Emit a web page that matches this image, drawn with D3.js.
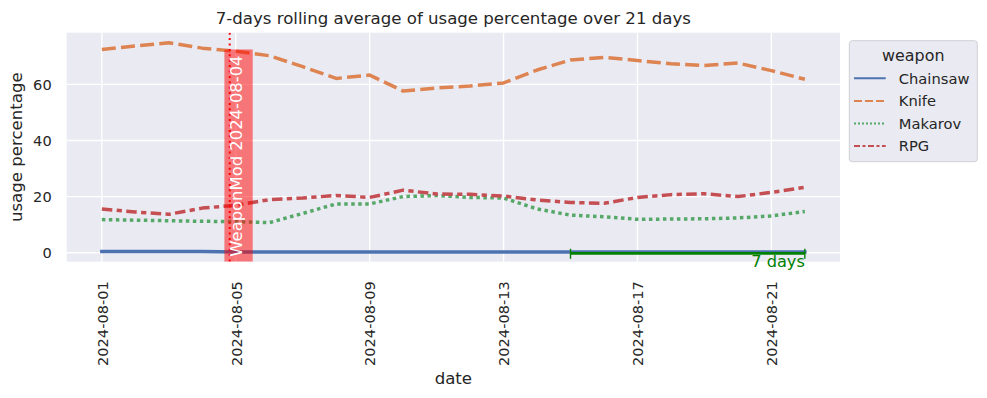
<!DOCTYPE html>
<html>
<head>
<meta charset="utf-8">
<script src="https://cdn.jsdelivr.net/npm/d3@7"></script>
<style>
    body { margin: 0; background: #ffffff; }
    svg { display: block; font-family: "DejaVu Sans", sans-serif; }
</style>
</head>
<body>
<svg id="chart" width="987" height="398"></svg>
<script>
// Data
var dates = ["2024-08-01", "2024-08-02", "2024-08-03", "2024-08-04", "2024-08-05", "2024-08-06",
    "2024-08-07", "2024-08-08", "2024-08-09", "2024-08-10", "2024-08-11", "2024-08-12",
    "2024-08-13", "2024-08-14", "2024-08-15", "2024-08-16", "2024-08-17", "2024-08-18",
    "2024-08-19", "2024-08-20", "2024-08-21", "2024-08-22"];
var weapons = ["Chainsaw", "Knife", "Makarov", "RPG"];
var chainsaw = [0.4, 0.4, 0.4, 0.4, 0.3, 0.3, 0.3, 0.3, 0.3, 0.3, 0.3, 0.3, 0.3, 0.3, 0.3, 0.3, 0.3, 0.3, 0.3, 0.3, 0.3, 0.3];
var knife = [72.4, 73.7, 74.8, 72.9, 71.8, 70.2, 66.3, 62.1, 63.3, 57.6, 58.7, 59.4, 60.5, 65.1, 68.7, 69.6, 68.5, 67.3, 66.7, 67.6, 64.9, 61.8];
var makarov = [11.8, 11.6, 11.4, 11.2, 11.1, 10.7, 14.0, 17.4, 17.4, 20.0, 20.4, 19.7, 19.5, 15.6, 13.4, 12.8, 11.9, 12.0, 12.1, 12.4, 13.1, 14.7];
var rpg = [15.6, 14.5, 13.7, 15.9, 16.9, 18.9, 19.5, 20.4, 19.7, 22.3, 20.9, 20.8, 20.2, 18.8, 17.9, 17.6, 19.7, 20.7, 21.0, 20.0, 21.5, 23.3];
var xTickDates = ["2024-08-01", "2024-08-05", "2024-08-09", "2024-08-13", "2024-08-17", "2024-08-21"];
var yTicks = [0, 20, 40, 60];
var eventDate = "2024-08-04T19:40:00Z";
var eventLabel = "WeaponMod 2024-08-04";
var windowStart = "2024-08-15", windowEnd = "2024-08-22";
var windowLabel = "7 days";

var config = {
    margin: { left: 66.7, top: 32.7, right: 840, bottom: 261.7 },
    colors: ["#4c72b0", "#dd8452", "#55a868", "#c44e52"],
    // seaborn style dashes, in units of the line width
    dashes: [null, [4, 1.5], [1, 1], [3, 1.25, 1.5, 1.25]],
    lineWidth: 3.5,
    legendLineWidth: 2,
    textColor: "#262626",
    background: "#eaeaf2"
};

var parse = function (s) { return new Date(s.length > 10 ? s : s + "T00:00:00Z"); };
var series = [chainsaw, knife, makarov, rpg];

var svg = d3.select("#chart"),
    m = config.margin,
    first = parse(dates[0]),
    last = parse(dates[dates.length - 1]),
    pad = (last - first) * 0.05;

var x = d3.scaleUtc()
    .domain([new Date(+first - pad), new Date(+last + pad)])
    .range([m.left, m.right]);

var y = d3.scaleLinear()
    .domain([-3.2, 78.4])
    .range([m.bottom, m.top]);

var dash = function (i, w) {
    return config.dashes[i] ? config.dashes[i].map(function (d) { return d * w; }).join(",") : null;
};

// Axes background and grid
svg.append("rect")
    .attr("x", m.left).attr("y", m.top)
    .attr("width", m.right - m.left).attr("height", m.bottom - m.top)
    .attr("fill", config.background);

svg.append("clipPath").attr("id", "plot-clip")
    .append("rect")
    .attr("x", m.left).attr("y", m.top)
    .attr("width", m.right - m.left).attr("height", m.bottom - m.top);

var xAxis = svg.append("g")
    .attr("transform", "translate(0," + m.bottom + ")")
    .call(d3.axisBottom(x).tickValues(xTickDates.map(parse)).tickSize(0).tickFormat(d3.utcFormat("%Y-%m-%d")))
    .attr("font-family", null)
    .attr("font-size", null);
xAxis.select(".domain").remove();
xAxis.selectAll("text")
    .attr("fill", config.textColor)
    .style("font-size", "14.6px")
    .attr("text-anchor", "end")
    .attr("dy", null)
    .attr("y", 0)
    .attr("transform", "translate(5.3,19.5) rotate(-90)");

var yAxis = svg.append("g")
    .attr("transform", "translate(" + m.left + ",0)")
    .call(d3.axisLeft(y).tickValues(yTicks).tickSize(0))
    .attr("font-family", null)
    .attr("font-size", null);
yAxis.select(".domain").remove();
yAxis.selectAll("text")
    .attr("fill", config.textColor)
    .style("font-size", "14.6px")
    .attr("x", -15);

svg.append("g").selectAll("line")
    .data(xTickDates.map(parse))
    .join("line")
    .attr("x1", function (d) { return x(d); }).attr("x2", function (d) { return x(d); })
    .attr("y1", m.top).attr("y2", m.bottom)
    .attr("stroke", "#ffffff").attr("stroke-width", 1.4);

svg.append("g").selectAll("line")
    .data(yTicks)
    .join("line")
    .attr("x1", m.left).attr("x2", m.right)
    .attr("y1", function (d) { return y(d); }).attr("y2", function (d) { return y(d); })
    .attr("stroke", "#ffffff").attr("stroke-width", 1.4);

// Series lines
var line = d3.line()
    .x(function (d, i) { return x(parse(dates[i])); })
    .y(function (d) { return y(d); });

var plot = svg.append("g").attr("clip-path", "url(#plot-clip)");

series.forEach(function (values, i) {
    plot.append("path")
        .datum(values)
        .attr("d", line)
        .attr("fill", "none")
        .attr("stroke", config.colors[i])
        .attr("stroke-width", config.lineWidth)
        .attr("stroke-linejoin", "round")
        .attr("stroke-linecap", i === 0 ? "square" : "butt")
        .attr("stroke-dasharray", dash(i, config.lineWidth));
});

// Event marker: dotted line and labelled box
var ex = x(parse(eventDate)),
    textBottom = m.bottom - 5;

plot.append("line")
    .attr("x1", ex).attr("x2", ex)
    .attr("y1", m.top).attr("y2", m.bottom)
    .attr("stroke", "#ff0000")
    .attr("stroke-width", 2)
    .attr("stroke-dasharray", "2,3.4");

var boxRect = plot.append("rect")
    .attr("fill", "#ff0000")
    .attr("fill-opacity", 0.5);

var eventText = plot.append("text")
    .attr("transform", "translate(" + (ex + 12.6) + "," + textBottom + ") rotate(-90)")
    .attr("fill", "#ffffff")
    .style("font-size", "16.4px")
    .text(eventLabel);

var textLength = eventText.node().getComputedTextLength();
boxRect
    .attr("x", ex - 5.3)
    .attr("width", 28.3)
    .attr("y", textBottom - textLength - 6)
    .attr("height", textLength + 11);

// Rolling window bracket
var wx1 = x(parse(windowStart)),
    wx2 = x(parse(windowEnd)),
    wy = y(-0.2);

svg.append("line")
    .attr("x1", wx1).attr("x2", wx2)
    .attr("y1", wy).attr("y2", wy)
    .attr("stroke", "#008000").attr("stroke-width", 2.8);

[wx1, wx2].forEach(function (px) {
    svg.append("line")
        .attr("x1", px).attr("x2", px)
        .attr("y1", wy - 4.5).attr("y2", wy + 5.5)
        .attr("stroke", "#008000").attr("stroke-width", 1.4);
});

svg.append("text")
    .attr("x", wx2).attr("y", wy + 13.5)
    .attr("text-anchor", "end")
    .attr("fill", "#008000")
    .style("font-size", "16.2px")
    .text(windowLabel);

// Title and axis labels
svg.append("text")
    .attr("x", (m.left + m.right) / 2).attr("y", 24)
    .attr("text-anchor", "middle")
    .attr("fill", config.textColor)
    .style("font-size", "16.6px")
    .text("7-days rolling average of usage percentage over 21 days");

svg.append("text")
    .attr("x", (m.left + m.right) / 2).attr("y", 384)
    .attr("text-anchor", "middle")
    .attr("fill", config.textColor)
    .style("font-size", "16.6px")
    .text("date");

svg.append("text")
    .attr("transform", "translate(22," + (m.top + m.bottom) / 2 + ") rotate(-90)")
    .attr("text-anchor", "middle")
    .attr("fill", config.textColor)
    .style("font-size", "16.6px")
    .text("usage percentage");

// Legend
var legend = svg.append("g").attr("transform", "translate(849.3,40.7)");

legend.append("rect")
    .attr("width", 128).attr("height", 121)
    .attr("rx", 3)
    .attr("fill", config.background)
    .attr("stroke", "#cfcfd6")
    .attr("stroke-width", 1);

legend.append("text")
    .attr("x", 64).attr("y", 20.5)
    .attr("text-anchor", "middle")
    .attr("fill", config.textColor)
    .style("font-size", "15.9px")
    .text("weapon");

weapons.forEach(function (name, i) {
    var ly = 37.6 + i * 22.6;
    legend.append("line")
        .attr("x1", 4.7).attr("x2", 36.4)
        .attr("y1", ly).attr("y2", ly)
        .attr("stroke", config.colors[i])
        .attr("stroke-width", config.legendLineWidth)
        .attr("stroke-dasharray", dash(i, config.legendLineWidth));
    legend.append("text")
        .attr("x", 49.5).attr("y", ly + 5.3)
        .attr("fill", config.textColor)
        .style("font-size", "14.7px")
        .text(name);
});
</script>
</body>
</html>
